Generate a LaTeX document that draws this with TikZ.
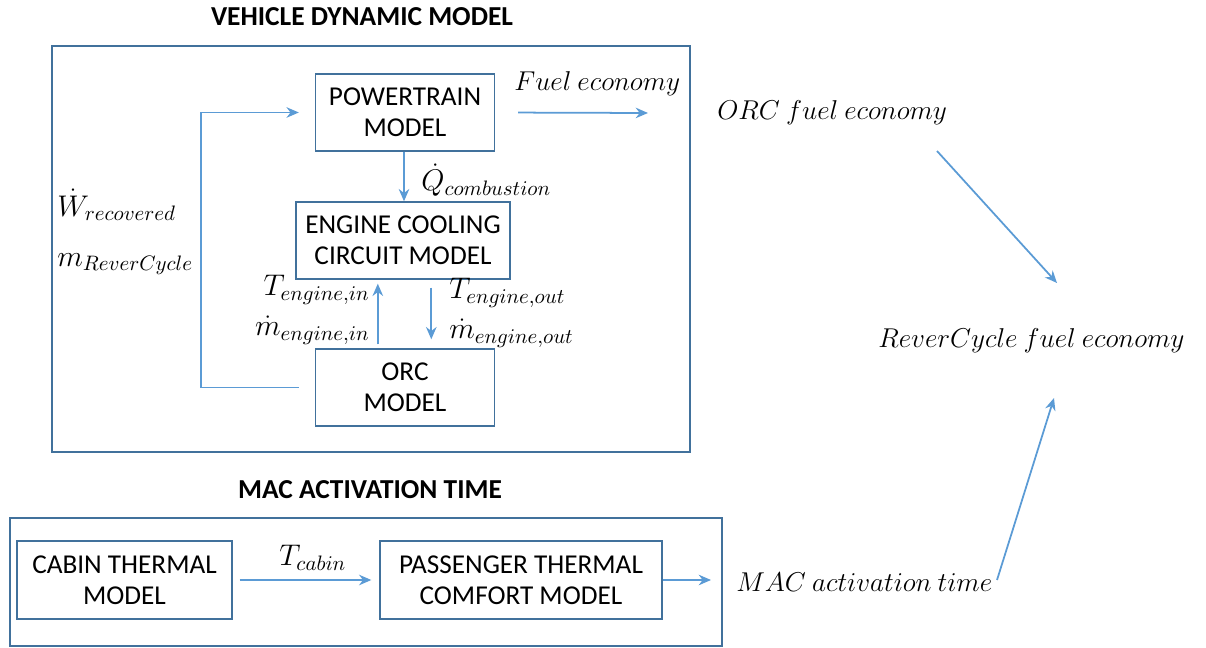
\RequirePackage{fix-cm}
\documentclass[tikz,border=0pt]{standalone}
\usepackage{amsmath}
\usepackage{fontspec}
\setmainfont{Carlito}
\usetikzlibrary{arrows.meta}
\definecolor{boxblue}{HTML}{41719C}
\definecolor{lineblue}{HTML}{5B9BD5}
\tikzset{
	model/.style={draw=boxblue,line width=0.8pt,align=center,inner sep=0pt,
		font=\fontsize{15.5}{17.5}\selectfont},
	flow/.style={draw=lineblue,line width=1pt,-{Stealth[length=7pt,width=6pt]}},
	var/.style={font=\fontsize{17}{20}\selectfont,inner sep=0pt},
	words/.style={font=\fontsize{15.5}{18}\selectfont,inner sep=0pt},
	heading/.style={font=\fontsize{15.6}{18}\selectfont\bfseries,inner sep=0pt}
}

\begin{document}
\begin{tikzpicture}[x=0.02cm,y=-0.02cm]
	\useasboundingbox (0,0) rectangle (1206,648);
	\node[heading] (vdmtitle) at (362,17) {VEHICLE DYNAMIC MODEL};
	\draw[boxblue,line width=0.8pt] (52,46) rectangle (690,452);
	\node[model,minimum width=3.58cm,minimum height=1.54cm] (pt) at (405,112.5) {POWERTRAIN\\MODEL};
	\node[model,minimum width=4.28cm,minimum height=1.54cm] (ec) at (403,240.5) {ENGINE COOLING\\CIRCUIT MODEL};
	\node[model,minimum width=3.58cm,minimum height=1.54cm] (orc) at (405,387.5) {ORC\\MODEL};
	\coordinate (feend) at (648,113);
	\node[words,anchor=west] (fe) at (514,84) {$Fuel\ economy$};
	\draw[flow,shorten <=0.46cm] (pt.east) -- (feend);
	\draw[flow] ([xshift=-0.02cm]pt.south) -- ([xshift=-0.02cm]pt.south |- ec.north);
	\node[var,anchor=west] (qc) at (421,180) {$\dot{Q}_{combustion}$};
	\draw[flow,shorten <=0.16cm,shorten >=0.18cm] ([xshift=2.72cm]ec.south west) -- ([xshift=2.72cm]ec.south west |- orc.north);
	\draw[flow,shorten <=0.08cm,shorten >=0.08cm] ([xshift=1.26cm]orc.north west) -- ([xshift=1.26cm]orc.north west |- ec.south);
	\node[var,anchor=east] (tin) at (370,290) {$T_{engine,in}$};
	\node[var,anchor=east] (min) at (370,330) {$\dot{m}_{engine,in}$};
	\node[var,anchor=west] (tout) at (449,293) {$T_{engine,out}$};
	\node[var,anchor=west] (mout) at (449,333) {$\dot{m}_{engine,out}$};
	\draw[flow,shorten <=0.32cm,shorten >=0.32cm] (orc.west) -- ++(-114,0) |- (pt.west);
	\node[var,anchor=west] (wrec) at (57,205) {$\dot{W}_{recovered}$};
	\node[var,anchor=west] (mrc) at (57,264) {$m_{ReverCycle}$};
	\node[words,anchor=west] (orcfe) at (717,113) {$ORC\ fuel\ economy$};
	\node[words,anchor=west] (rcfe) at (878,341) {$ReverCycle\ fuel\ economy$};
	\coordinate (orcfeout) at (937,151);
	\coordinate (rcfein) at (1057,283);
	\draw[flow] (orcfeout) -- (rcfein);
	\node[heading] (mactitle) at (370,490) {MAC ACTIVATION TIME};
	\draw[boxblue,line width=0.8pt] (10,518) rectangle (722,646);
	\node[model,minimum width=4.3cm,minimum height=1.56cm] (cabin) at (124.5,580) {CABIN THERMAL\\MODEL};
	\node[model,minimum width=5.64cm,minimum height=1.56cm] (pass) at (521,580) {PASSENGER THERMAL\\COMFORT MODEL};
	\draw[flow,shorten <=0.14cm,shorten >=0.16cm] (cabin.east) -- (pass.west);
	\node[var,anchor=west] (tcab) at (279,558) {$T_{cabin}$};
	\node[words,anchor=west] (mac) at (736,582) {$MAC\ activation\ time$};
	\draw[flow,shorten >=0.5cm] (pass.east) -- (pass.east -| mac.west);
	\coordinate (macout) at (997,580);
	\coordinate (rcfein2) at (1054,398);
	\draw[flow] (macout) -- (rcfein2);
\end{tikzpicture}
\end{document}
